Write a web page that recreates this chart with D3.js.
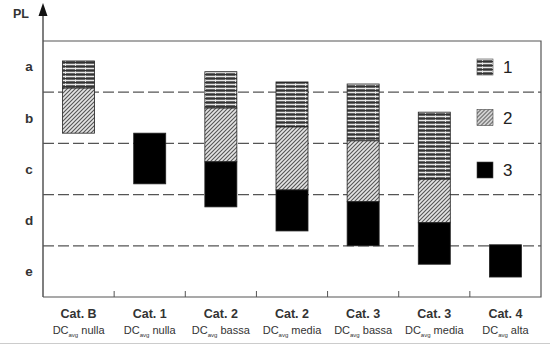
<!DOCTYPE html>
<html><head><meta charset="utf-8">
<script src="https://cdn.jsdelivr.net/npm/d3@7"></script>
<style>html,body{margin:0;padding:0;background:#fff;}svg{display:block;font-family:"Liberation Sans",Arial,sans-serif;}</style>
</head><body>
<script>
const categories = ["Cat. B","Cat. 1","Cat. 2","Cat. 2","Cat. 3","Cat. 3","Cat. 4"];
const dcLevels = ["nulla","nulla","bassa","media","bassa","media","alta"];
const levelLabels = ["a","b","c","d","e"];
const legendLabels = ["1","2","3"];
// PL values: 0 = top of band "a", 5 = bottom of band "e"
const s1Start = [0.39, null, 0.60, 0.80, 0.84, 1.39, null];
const s1End   = [0.92, null, 1.31, 1.68, 1.95, 2.70, null];
const s2Start = [0.92, null, 1.31, 1.68, 1.95, 2.70, null];
const s2End   = [1.80, null, 2.36, 2.91, 3.14, 3.55, null];
const s3Start = [null, 1.80, 2.36, 2.91, 3.14, 3.55, 3.98];
const s3End   = [null, 2.79, 3.24, 3.71, 4.00, 4.36, 4.61];

const W = 550, H = 347;
const L = 43, R = 541, T = 41, B = 297;
const svg = d3.select("body").append("svg").attr("width", W).attr("height", H);
const defs = svg.append("defs");

// pattern 1: horizontal stripes with vertical dotted lines
const p1 = defs.append("pattern").attr("id","p1").attr("patternUnits","userSpaceOnUse")
  .attr("width",10).attr("height",4);
p1.append("rect").attr("width",10).attr("height",4).attr("fill","#666");
p1.append("rect").attr("y",0).attr("width",10).attr("height",1).attr("fill","#e8e8e8");
p1.append("rect").attr("y",2).attr("width",10).attr("height",1).attr("fill","#333");
p1.append("rect").attr("x",5).attr("y",1).attr("width",1).attr("height",1).attr("fill","#ddd");
p1.append("rect").attr("x",5).attr("y",3).attr("width",1).attr("height",1).attr("fill","#bbb");

// pattern 2: diagonal hatch
const p2 = defs.append("pattern").attr("id","p2").attr("patternUnits","userSpaceOnUse")
  .attr("width",4).attr("height",4);
p2.append("rect").attr("width",4).attr("height",4).attr("fill","#e4e4e4");
p2.append("path").attr("d","M-1,1 l2,-2 M0,4 l4,-4 M3,5 l2,-2").attr("stroke","#555").attr("stroke-width",1.1);

const fills = ["url(#p1)","url(#p2)","#000"];

const x = d3.scaleBand().domain(d3.range(categories.length)).range([L, R])
  .paddingInner(0.55).paddingOuter(0.275);
const y = d3.scaleLinear().domain([0, 5]).range([T, B]);
const step = x.step();

// dashed separators
svg.append("g").selectAll("line").data([1,2,3,4]).join("line")
  .attr("x1", L).attr("x2", R).attr("y1", d => y(d)).attr("y2", d => y(d))
  .attr("stroke","#555").attr("stroke-width",1.2).attr("stroke-dasharray","11,4");

// bars
const series = [[s1Start,s1End],[s2Start,s2End],[s3Start,s3End]];
series.forEach(([st,en], si) => {
  svg.append("g").selectAll("rect").data(d3.range(categories.length).filter(i => st[i] != null)).join("rect")
    .attr("x", i => x(i)).attr("width", x.bandwidth())
    .attr("y", i => y(st[i])).attr("height", i => y(en[i]) - y(st[i]))
    .attr("fill", fills[si]).attr("stroke","#222").attr("stroke-width",0.8);
});

// frame
svg.append("path").attr("d",`M${L},${T}H${R}V${B}H${L}`).attr("fill","none").attr("stroke","#555").attr("stroke-width",1.2);
// y axis with arrow
svg.append("line").attr("x1",L).attr("x2",L).attr("y1",12).attr("y2",B).attr("stroke","#555").attr("stroke-width",1.5);
svg.append("path").attr("d",`M${L},3 L${L-4.5},16 L${L+4.5},16 Z`).attr("fill","#111");
svg.append("text").attr("x",13).attr("y",18).attr("font-size",12.5).attr("font-weight","bold").attr("fill","#333").text("PL");

// level labels
svg.append("g").selectAll("text").data(levelLabels).join("text")
  .attr("x",29).attr("y",(d,i) => y(i+0.5)).attr("dy","0.35em").attr("text-anchor","middle")
  .attr("font-size",13.5).attr("font-weight","bold").attr("fill","#333").text(d => d);

// bottom ticks
svg.append("g").selectAll("line").data(d3.range(1, categories.length)).join("line")
  .attr("x1", k => L + k*step).attr("x2", k => L + k*step).attr("y1", B).attr("y2", B-6)
  .attr("stroke","#555").attr("stroke-width",1);

// category labels
const cx = i => x(i) + x.bandwidth()/2;
svg.append("g").selectAll("text").data(categories).join("text")
  .attr("x",(d,i) => cx(i)).attr("y",318).attr("text-anchor","middle")
  .attr("font-size",12.5).attr("font-weight","bold").attr("fill","#333").text(d => d);
const sub = svg.append("g").selectAll("text").data(dcLevels).join("text")
  .attr("x",(d,i) => cx(i)).attr("y",334).attr("text-anchor","middle")
  .attr("font-size",11).attr("fill","#333");
sub.append("tspan").text("DC");
sub.append("tspan").attr("font-size",6).attr("dy",3).text("avg");
sub.append("tspan").attr("dy",-3).text(d => "\u00a0" + d);

// bottom gray line
svg.append("line").attr("x1",0).attr("x2",W).attr("y1",343.5).attr("y2",343.5).attr("stroke","#ccc");

// legend
const ly = [67, 117.5, 170];
const lg = svg.append("g").selectAll("g").data(legendLabels).join("g")
  .attr("transform",(d,i) => `translate(477,${ly[i]})`);
lg.append("rect").attr("x",0).attr("y",-8).attr("width",16).attr("height",16)
  .attr("fill",(d,i) => fills[i]).attr("stroke","#444").attr("stroke-width",0.6);
lg.append("text").attr("x",26).attr("y",0).attr("dy","0.36em").attr("font-size",17).attr("fill","#222").text(d => d);
</script>
</body></html>
